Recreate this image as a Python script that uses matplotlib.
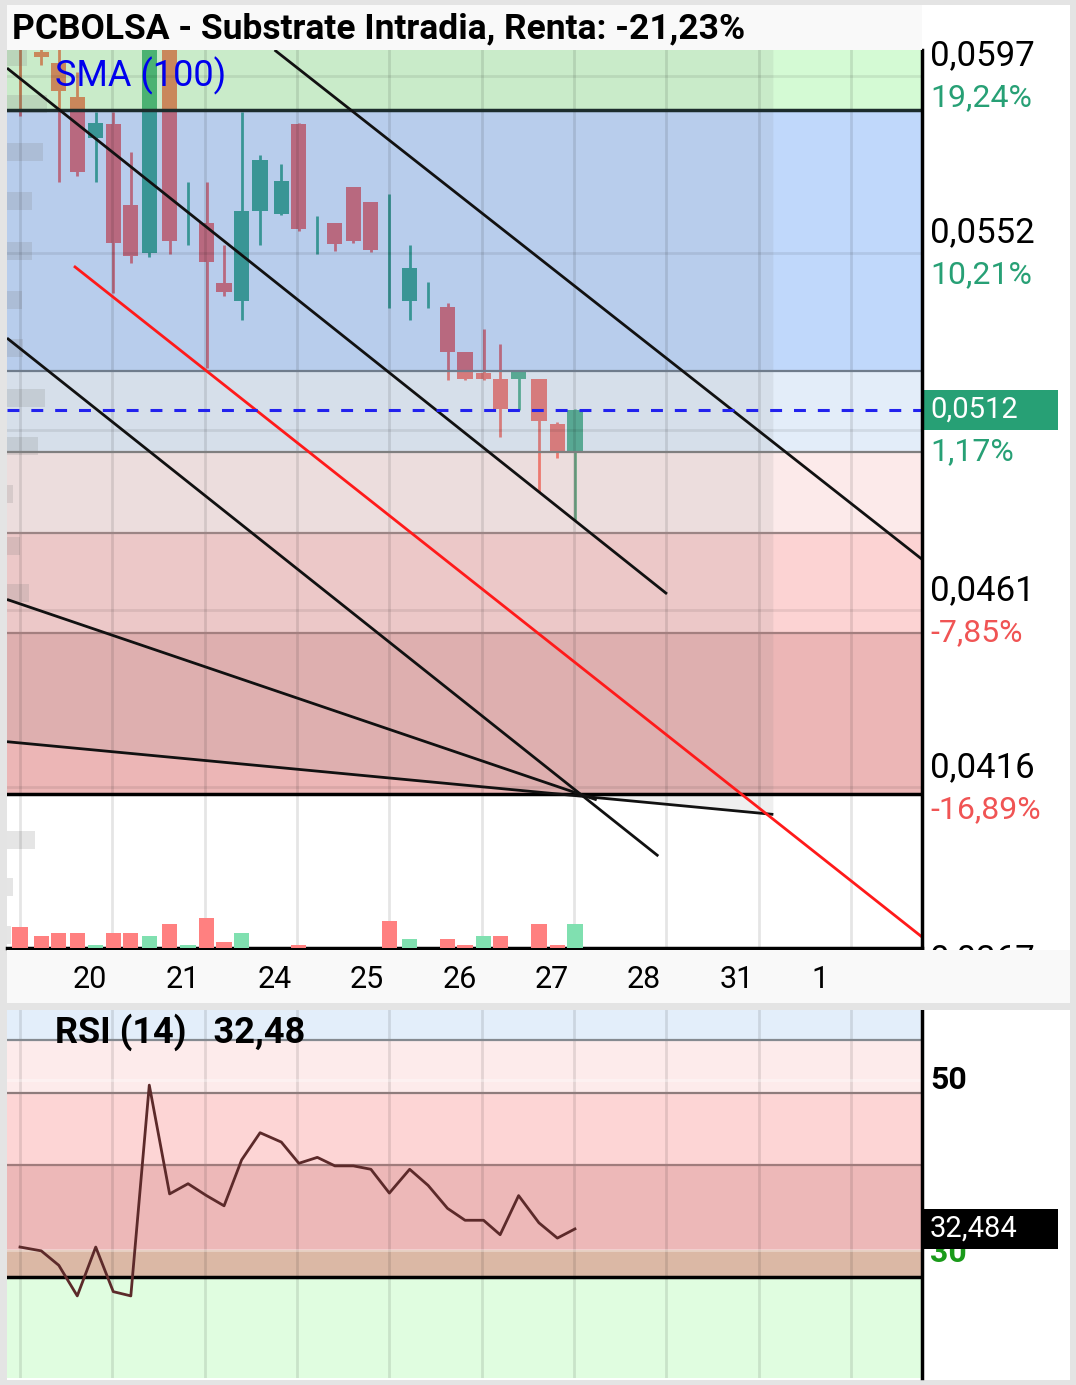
import matplotlib
matplotlib.use("Agg")
import matplotlib.pyplot as plt
from matplotlib.patches import Rectangle
from matplotlib.transforms import blended_transform_factory as blend
import numpy as np

plt.rcParams['font.family'] = ['Roboto', 'DejaVu Sans']

# velas intradia (t = sesiones contadas desde el dia 20)
t = [0.00, 0.23, 0.42, 0.62, 0.82, 1.01, 1.20, 1.40, 1.62, 1.82, 2.02, 2.21, 2.40, 2.60, 2.83, 3.02,
     3.22, 3.41, 3.61, 3.80, 4.00, 4.22, 4.42, 4.63, 4.82, 5.02, 5.20, 5.40, 5.62, 5.82, 6.01]
apertura = [0.06100, 0.06031, 0.06003, 0.05916, 0.05812, 0.05848, 0.05642, 0.05519, 0.06070, 0.05620,
            0.05596, 0.05443, 0.05397, 0.05626, 0.05619, 0.05848, 0.05560, 0.05596, 0.05687, 0.05649,
            0.05520, 0.05397, 0.05410, 0.05382, 0.05268, 0.05214, 0.05199, 0.05199, 0.05199, 0.05084, 0.05016]
maximo = [0.06120, 0.06060, 0.06080, 0.05980, 0.05878, 0.05878, 0.05776, 0.06100, 0.06090, 0.05700,
          0.05700, 0.05540, 0.05878, 0.05769, 0.05746, 0.05850, 0.05614, 0.05596, 0.05687, 0.05649,
          0.05670, 0.05540, 0.05446, 0.05392, 0.05268, 0.05326, 0.05288, 0.05222, 0.05199, 0.05089, 0.05123]
minimo = [0.05868, 0.05998, 0.05700, 0.05715, 0.05700, 0.05418, 0.05494, 0.05509, 0.05517, 0.05540,
          0.05227, 0.05410, 0.05349, 0.05540, 0.05616, 0.05575, 0.05517, 0.05525, 0.05545, 0.05522,
          0.05380, 0.05349, 0.05380, 0.05196, 0.05196, 0.05196, 0.05051, 0.05120, 0.04911, 0.04998, 0.04840]
cierre = [0.06060, 0.06018, 0.05932, 0.05726, 0.05850, 0.05545, 0.05512, 0.06080, 0.05550, 0.05620,
          0.05497, 0.05420, 0.05626, 0.05756, 0.05703, 0.05581, 0.05560, 0.05542, 0.05550, 0.05527,
          0.05520, 0.05481, 0.05410, 0.05268, 0.05199, 0.05199, 0.05123, 0.05222, 0.05092, 0.05016, 0.05120]
volumen = [21, 12, 15, 15, 3, 15, 15, 12, 24, 3, 30, 6, 15, 0, 0, 3, 0, 0, 0, 0, 27, 9, 0, 9, 3, 12, 12, 0, 24, 3, 24]
vol_sube = [0, 0, 0, 0, 1, 0, 0, 1, 0, 1, 0, 0, 1, 0, 0, 0, 0, 0, 0, 0, 0, 1, 0, 0, 0, 1, 0, 0, 0, 0, 1]
rsi = [30.35, 29.9, 28.2, 24.6, 30.35, 25.1, 24.6, 49.4, 36.6, 37.8, 36.4, 35.2, 40.6, 43.8, 42.7, 40.2,
       40.9, 39.9, 39.9, 39.5, 36.7, 39.5, 37.6, 34.9, 33.5, 33.5, 31.8, 36.4, 33.2, 31.4, 32.48]

# perfil de volumen por precio
vp_precio = [0.06018, 0.05899, 0.05777, 0.05652, 0.05525, 0.05400, 0.05278, 0.05151, 0.05028,
             0.04906, 0.04774, 0.04654, 0.04026, 0.03906, 0.03784]
vp_vol = [20, 40, 36, 25, 25, 15, 16, 38, 31, 6, 13, 22, 28, 6, 4]

dias = ['20', '21', '24', '25', '26', '27', '28', '31', '1']
precio_ticks = [0.0597, 0.0552, 0.0507, 0.0461, 0.0416, 0.0367]
precio_txt = ['0,0597', '0,0552', '', '0,0461', '0,0416', '0,0367']
pct_txt = ['19,24%', '10,21%', '1,17%', '-7,85%', '-16,89%', '']

# fibonacci
fib_alto = 0.05883
fib_bajo = 0.04143
fib_niveles = [-0.236, 0, 0.382, 0.5, 0.618, 0.764, 1]
fib_colores = ['#84f184', '#4b90f6', '#afceee', '#f9c3c3', '#f98181', '#cb2e2e']
fib_lineas = ['#1c2c2c', '#6f7c8c', '#7f7f7f', '#9b8585', '#a37f7f', '#000000']

# lineas de tendencia dibujadas (t, precio)
lineas = [((-0.141, 0.05990), (7.007, 0.04652)),
          ((2.757, 0.06036), (9.77, 0.04740)),
          ((-0.141, 0.05303), (6.913, 0.03985)),
          ((-0.141, 0.04638), (6.246, 0.04128)),
          ((-0.141, 0.04276), (8.159, 0.04091))]
roja = ((0.596, 0.05484), (9.77, 0.03779))

# rsi zonas
rsi_zonas = [(54.71, 70, '#e3eefa'), (48.47, 54.71, '#fdebeb'), (40.0, 48.47, '#fdd5d5'),
             (30.0, 40.0, '#edb8b8'), (26.82, 30.0, '#dbb8a5'), (0, 26.82, '#e0fde0')]
rsi_lineas = [(54.71, '#858a90', 1.6), (48.47, '#8e7c7c', 1.6), (40.0, '#a07c7c', 1.6), (26.82, '#000000', 2.5)]

ROJO = '#ff5040'
VERDE = '#229e67'

W, H = 1076, 1385
fig = plt.figure(figsize=(W / 100, H / 100), dpi=100)
fig.patch.set_facecolor('#e4e4e4')
fig.add_artist(Rectangle((7 / W, 1 - 1380 / H), 1063 / W, 1375 / H, fc='white', ec='none', zorder=-1))

ax = fig.add_axes([7 / W, 1 - 948 / H, 915 / W, 898 / H])
ax2 = fig.add_axes([7 / W, 1 - 1378 / H, 915 / W, 368 / H])
x0, x1 = -0.141, 9.769
ax.set_ylim(0.037511, 0.06036)

# volumen (eje gemelo)
axv = ax.twinx()
axv.set_ylim(0, 898)
axv.bar(t, volumen, width=0.165, color=['#80e0b0' if u else '#ff8080' for u in vol_sube], lw=0)
axv.axis('off')

for a in (ax, ax2):
    a.set_xlim(x0, x1)
    a.set_facecolor('white')
    a.set_yticks([])
    a.set_xticks([])
    for s in ('top', 'left', 'bottom'):
        a.spines[s].set_visible(False)
    a.spines['right'].set_linewidth(2.5)
    a.spines['right'].set_zorder(10)
    for d in range(10):
        a.axvline(d, color='k', alpha=0.1, lw=2, zorder=4.5)
ax.spines['bottom'].set_visible(True)
ax.spines['bottom'].set_linewidth(2.5)
ax.spines['bottom'].set_zorder(10)

# velas
t_a = np.array(t)
o, h, l, c = map(np.array, (apertura, maximo, minimo, cierre))
col = np.where(c >= o, VERDE, ROJO)
ax.vlines(t_a, l, h, colors=col, lw=2, zorder=2)
ax.bar(t_a, np.abs(c - o), bottom=np.minimum(o, c), width=0.165, color=col, lw=0, zorder=2)

# zonas fibonacci
rango = fib_alto - fib_bajo
niv = [fib_alto - f * rango for f in fib_niveles]
for i in range(len(niv) - 1):
    ax.axhspan(niv[i + 1], niv[i], color=fib_colores[i], alpha=0.35, lw=0, zorder=3)
for i, f in enumerate(niv[1:]):
    ax.axhline(f, color=fib_lineas[i], lw=2.5 if i in (0, 5) else 1.6, zorder=5)

# sombreado gris limitado por la linea plana
(fa, fpa), (fb, fpb) = lineas[4]
ax.fill([x0, fb, fb, x0], [0.07, 0.07, fpb, fpa], color='#808080', alpha=0.12, lw=0, zorder=4)

for p in precio_ticks[:5]:
    ax.axhline(p, color='k', alpha=0.08, lw=2, zorder=4.5)

ax.barh(vp_precio, np.array(vp_vol) / 92.33, left=x0, height=0.00046, color='#808080',
        alpha=0.2, lw=0, zorder=4.2)

for (ta, pa), (tb, pb) in lineas:
    ax.plot([ta, tb], [pa, pb], color='#111111', lw=2, zorder=6, solid_capstyle='butt')
ax.plot([roja[0][0], roja[1][0]], [roja[0][1], roja[1][1]], color='#ff1a1a', lw=2, zorder=6)

ultimo = cierre[-1]
ax.axhline(ultimo, color='#2222ee', lw=2.2, ls=(0, (3.9, 3.9)), zorder=7)

ax.text(0.0525, 0.971, 'SMA (100)', transform=ax.transAxes, color='#0000ee', fontsize=26,
        va='center', ha='left', zorder=12)

# eje de precios
ytr = ax.get_yaxis_transform()
for p, s, q in zip(precio_ticks, precio_txt, pct_txt):
    if s:
        ax.annotate(s, xy=(1, p), xycoords=ytr, xytext=(5.8, 14.4), textcoords='offset points',
                    fontsize=25, va='center', ha='left', color='black', annotation_clip=False)
    if q:
        ax.annotate(q, xy=(1, p), xycoords=ytr, xytext=(5.8, -15.8), textcoords='offset points',
                    fontsize=23, va='center', ha='left',
                    color='#f05454' if q.startswith('-') else '#27a075', annotation_clip=False)
ax.add_patch(Rectangle((1.0, ultimo - 0.00052), 136 / 915, 0.00104, transform=ytr, clip_on=False,
                       fc='#27a075', ec='none', zorder=10))
ax.annotate(f'{ultimo:.4f}'.replace('.', ','), xy=(1, ultimo), xycoords=ytr, xytext=(5.8, 0),
            textcoords='offset points', fontsize=21, va='center', ha='left', color='white',
            zorder=11, annotation_clip=False)

# panel rsi
ax2.set_ylim(14.94, 58.24)
for lo, hi, cc in rsi_zonas:
    ax2.axhspan(lo, hi, color=cc, lw=0, zorder=1)
for v in (50, 30):
    ax2.axhline(v, color='white', alpha=0.35, lw=2, zorder=4.5)
for v, cc, lw in rsi_lineas:
    ax2.axhline(v, color=cc, lw=lw, zorder=5)
ax2.plot(t_a, rsi, color='#5c2a2a', lw=2, zorder=6)
ax2.text(0.0525, 0.94, 'RSI (14)   ' + f'{rsi[-1]:.2f}'.replace('.', ','), transform=ax2.transAxes,
         fontsize=26, fontweight='bold', va='center', ha='left', zorder=12)
ytr2 = ax2.get_yaxis_transform()
ax2.annotate('50', xy=(1, 50), xycoords=ytr2, xytext=(5.8, 0), textcoords='offset points',
             fontsize=23, fontweight='bold', va='center', annotation_clip=False)
ax2.annotate('30', xy=(1, 30), xycoords=ytr2, xytext=(5.8, -2), textcoords='offset points',
             fontsize=23, fontweight='bold', va='center', color='#1a9a1a', annotation_clip=False)
ax2.add_patch(Rectangle((1.0, rsi[-1] - 2.35), 136 / 915, 4.7, transform=ytr2, clip_on=False,
                        fc='black', ec='none', zorder=10))
ax2.annotate('32,484', xy=(1, rsi[-1]), xycoords=ytr2, xytext=(5.8, 0), textcoords='offset points',
             fontsize=21, va='center', color='white', zorder=11, annotation_clip=False)

# barras de la figura
fig.add_artist(Rectangle((7 / W, 1 - 50 / H), 915 / W, 45 / H, fc='#f9f9f9', ec='none', zorder=5))
fig.add_artist(Rectangle((7 / W, 1 - 1003 / H), 1063 / W, 53 / H, fc='#f9f9f9', ec='none', zorder=5))
fig.add_artist(Rectangle((7 / W, 1 - 1010 / H), 1063 / W, 7 / H, fc='#e4e4e4', ec='none', zorder=5))
fig.text(12 / W, 1 - 28.5 / H, 'PCBOLSA - Substrate Intradia, Renta: -21,23%', fontsize=25.5,
         fontweight='bold', va='center', ha='left', zorder=6)
btr = blend(ax.transData, fig.transFigure)
for i, d in enumerate(dias):
    fig.text(i + 0.575, 1 - 980 / H, d, transform=btr, fontsize=22, va='center', ha='left', zorder=6)

fig.savefig('out.png', dpi=100, facecolor=fig.get_facecolor())
